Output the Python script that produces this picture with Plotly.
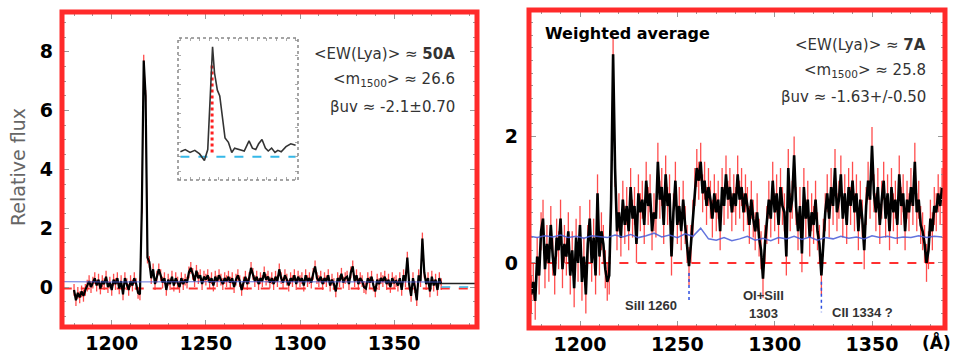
import plotly.graph_objects as go

W, H = 955, 356

# ---------------- data ----------------
left_start = 1180   # Angstrom, 1 A sampling
left_flux = [
    -0.1, -0.45, -0.2, -0.35, -0.15, -0.3, -0.1, 0.05, 0.2, 0.0,
    0.15, 0.3, 0.05, 0.25, -0.05, 0.2, 0.1, 0.35, 0.0, 0.15,
    -0.1, 0.25, 0.1, 0.3, -0.05, 0.2, -0.25, 0.3, 0.1, -0.1,
    0.2, 0.05, 0.3, 0.1, -0.2, -0.25, 2.7, 7.7, 6.5, 1.0,
    0.85, 0.3, 0.6, 0.1, 0.35, 0.6, 0.4, 0.15, 0.3, -0.1,
    0.25, 0.1, 0.35, 0.05, 0.3, 0.15, 0.0, 0.3, 0.1, 0.25,
    0.15, 0.5, 0.65, 0.45, 0.2, 0.55, 0.3, 0.4, 0.1, 0.35,
    0.25, 0.4, 0.15, 0.3, 0.05, 0.35, 0.2, 0.4, 0.25, 0.1,
    0.3, 0.2, 0.35, 0.15, 0.3, 0.0, 0.25, 0.4, 0.2, -0.1,
    0.15, 0.35, 0.1, 0.3, 0.65, 0.45, 0.2, 0.35, 0.1, 0.3,
    0.2, 0.5, 0.25, 0.35, 0.15, 0.3, 0.1, 0.35, 0.2, 0.6,
    0.3, 0.15, 0.4, 0.25, 0.05, 0.3, 0.2, 0.4, 0.1, 0.35,
    0.2, 0.3, 0.05, 0.4, 0.2, 0.3, 0.15, 0.45, 0.7, 0.3,
    0.2, 0.35, 0.1, 0.3, 0.2, 0.4, 0.05, 0.25, 0.1, -0.15,
    0.3, 0.2, 0.45, 0.15, 0.3, 0.35, 0.1, 0.5, 0.7, 0.2,
    0.4, 0.1, 0.3, 0.2, 0.0, -0.05, 0.3, 0.15, 0.35, 0.05,
    -0.15, 0.25, 0.1, 0.3, 0.2, 0.35, 0.1, 0.25, 0.0, 0.3,
    0.15, 0.2, 0.05, 0.3, -0.1, 0.4, 0.2, 1.0, 0.1, -0.3,
    0.3, 0.0, -0.45, 0.4, 0.2, 1.65, 0.5, 0.1, 0.3, -0.15,
    0.35, 0.05, 0.25, -0.1, 0.3, 0.1,
]
left_err = 0.2
left_noise_wave = [1174, 1200, 1250, 1300, 1350, 1375]
left_noise = [0.18, 0.17, 0.18, 0.17, 0.18, 0.17]
left_tail_wave = [1375, 1394]
left_tail_black = [0.12, 0.12]
left_tail_blue = [0.0, 0.0]
left_zero = -0.05

right_start = 1174  # Angstrom, 1 A sampling
right_flux = [
    -0.2, -0.5, -0.3, -0.6, 0.1, -0.2,
    0.5, 0.7, -0.1, 0.3, 0.0, 0.6, 0.1, -0.2, 0.4, 0.2,
    0.7, -0.1, 0.3, 0.1, 0.5, -0.2, 0.2, -0.4, 0.4, 0.0,
    0.6, -0.3, 0.1, -0.5, 0.3, 0.7, 0.0, 0.4, -0.2, 1.1,
    0.1, 0.5, 0.3, -0.1, -0.3, -0.2, 1.0, 3.3, 1.5, 0.5,
    0.8, 0.4, 1.0, 0.6, 0.9, 0.5, 1.2, 0.7, 0.9, 0.3,
    1.1, 0.8, 1.0, 0.6, 1.3, 0.9, 1.1, 0.5, 0.8, 0.7,
    1.6, 1.0, 1.2, 0.6, 1.4, 0.9, 1.1, 0.1, 0.8, 1.3,
    0.6, 0.9, 0.5, 1.0, 0.6, 0.3, -0.05, 0.3, 0.7, 1.2,
    1.5, 1.3, 1.6, 1.1, 1.3, 0.9, 1.2, 1.0, 0.7, 1.1,
    0.8, 1.0, 0.5, 1.2, 0.9, 1.4, 1.0, 1.2, 0.8, 1.1,
    0.9, 1.4, 1.0, 1.2, 0.8, 1.1, 0.9, 0.6, 1.0, 0.7,
    0.5, 0.8, 0.4, 0.2, -0.25, 0.3, 0.6, 1.0, 0.7, 1.3,
    0.8, 1.1, 0.6, 1.2, 0.9, 0.8, 0.1, 1.5, 0.8, 1.0,
    1.7, 0.9, 0.5, 0.9, 0.15, 1.2, 0.7, 1.0, 0.4, 0.8,
    0.6, 1.0, 0.5, 0.3, -0.2, 0.4, 0.8, 1.1, 0.7, 1.2,
    0.9, 1.5, 0.8, 1.0, 1.4, 0.7, 1.1, 0.6, 1.2, 0.9,
    1.3, 0.8, 1.1, 0.5, 1.0, 0.7, 0.2, 0.9, 1.3, 1.0,
    1.85, 1.1, 0.8, 1.2, 0.6, 1.0, 1.3, 0.7, 1.1, 0.5,
    1.2, 0.8, 1.0, 0.6, 1.4, 0.9, 1.1, 0.5, 1.0, 0.8,
    1.2, 0.9, 1.6, 0.8, 1.0, 0.6, 0.5, 0.3, 0.0, 0.2,
    0.7, 0.5, 0.9, 0.8, 1.1, 0.9, 1.2,
]
right_err = 0.3
right_noise_start = 1174  # 4 A sampling
right_noise = [
    0.42, 0.40, 0.43, 0.41, 0.44, 0.40, 0.42, 0.39, 0.43, 0.41,
    0.40, 0.44, 0.41, 0.45, 0.40, 0.43, 0.47, 0.41, 0.44, 0.40,
    0.46, 0.42, 0.55, 0.38, 0.36, 0.40, 0.35, 0.38, 0.42, 0.36,
    0.39, 0.35, 0.40, 0.38, 0.42, 0.37, 0.41, 0.36, 0.40, 0.38,
    0.42, 0.39, 0.41, 0.38, 0.43, 0.40, 0.42, 0.39, 0.41, 0.40,
    0.43, 0.40, 0.42, 0.41,
]
right_zero = 0.0
marker_lines = [  # (wavelength, y_top, y_bottom)
    (1256, -0.16, -0.62),
    (1324, -0.30, -0.78),
]

inset_wave = [1206.0, 1207.0, 1208.0, 1209.0, 1210.0, 1211.0, 1211.7, 1212.2,
              1212.7, 1213.1, 1213.7, 1214.2, 1214.8, 1215.3, 1216.0, 1216.7,
              1217.3, 1218.3, 1219.3, 1220.3, 1221.0, 1221.7, 1222.3, 1223.0,
              1223.7, 1224.3, 1225.0, 1225.7, 1226.3, 1227.0, 1228.0, 1229.0,
              1230.0]
inset_flux = [0.35, 0.5, 0.3, 0.45, 0.2, -0.25, 0.5, 4.0,
              7.6, 5.8, 4.6, 4.2, 2.5, 1.3, 1.0, 0.3,
              0.6, 0.5, 0.4, 1.1, 0.6, 0.5, 0.9, 1.2,
              0.6, 0.4, 0.6, 0.3, 0.45, 0.35, 0.7, 0.9,
              0.8]
inset_peak_wave = 1212.6
inset_peak_span = [0.3, 6.5]

x_ticks = [1200, 1250, 1300, 1350]

left_wave = [left_start + i for i in range(len(left_flux))]
right_wave = [right_start + i for i in range(len(right_flux))]
right_noise_wave = [right_noise_start + 4 * i for i in range(len(right_noise))]

RED = "rgba(255,45,45,0.85)"
BLACK = "#000000"
BLUE = "rgba(70,90,215,0.85)"
LBLUE = "#35b8e8"

fig = go.Figure()

# ---- left panel ----
fig.add_trace(go.Scatter(x=[left_noise_wave[0], 1394], y=[left_zero, left_zero],
                         mode="lines", line=dict(color="#ff3030", width=2, dash="dash"),
                         xaxis="x", yaxis="y", hoverinfo="skip"))
fig.add_trace(go.Scatter(x=left_wave, y=left_flux, mode="lines",
                         line=dict(color=RED, width=1),
                         error_y=dict(type="constant", value=left_err, color=RED,
                                      thickness=1.3, width=0),
                         xaxis="x", yaxis="y", hoverinfo="skip"))
fig.add_trace(go.Scatter(x=left_wave, y=left_flux, mode="lines",
                         line=dict(color=BLACK, width=2.2),
                         xaxis="x", yaxis="y"))
fig.add_trace(go.Scatter(x=left_noise_wave, y=left_noise, mode="lines",
                         line=dict(color=BLUE, width=1),
                         xaxis="x", yaxis="y", hoverinfo="skip"))
fig.add_trace(go.Scatter(x=left_tail_wave, y=left_tail_black, mode="lines",
                         line=dict(color="#222", width=1.5),
                         xaxis="x", yaxis="y", hoverinfo="skip"))
fig.add_trace(go.Scatter(x=left_tail_wave, y=left_tail_blue, mode="lines",
                         line=dict(color=LBLUE, width=1.5, dash="dash"),
                         xaxis="x", yaxis="y", hoverinfo="skip"))

# ---- right panel ----
fig.add_trace(go.Scatter(x=[right_start, 1388], y=[right_zero, right_zero],
                         mode="lines", line=dict(color="#ff3030", width=2, dash="dash"),
                         xaxis="x2", yaxis="y2", hoverinfo="skip"))
fig.add_trace(go.Scatter(x=right_wave, y=right_flux, mode="lines",
                         line=dict(color=RED, width=1),
                         error_y=dict(type="constant", value=right_err, color=RED,
                                      thickness=1.3, width=0),
                         xaxis="x2", yaxis="y2", hoverinfo="skip"))
fig.add_trace(go.Scatter(x=right_wave, y=right_flux, mode="lines",
                         line=dict(color=BLACK, width=2.6),
                         xaxis="x2", yaxis="y2"))
fig.add_trace(go.Scatter(x=right_noise_wave, y=right_noise, mode="lines",
                         line=dict(color=BLUE, width=1.5),
                         xaxis="x2", yaxis="y2", hoverinfo="skip"))
for wl, y0, y1 in marker_lines:
    fig.add_trace(go.Scatter(x=[wl, wl], y=[y0, y1], mode="lines",
                             line=dict(color="#3050e0", width=1.5, dash="dot"),
                             xaxis="x2", yaxis="y2", hoverinfo="skip"))

# ---- inset ----
fig.add_trace(go.Scatter(x=[inset_wave[0], inset_wave[-1]], y=[0, 0], mode="lines",
                         line=dict(color=LBLUE, width=2, dash="dash"),
                         xaxis="x3", yaxis="y3", hoverinfo="skip"))
fig.add_trace(go.Scatter(x=[inset_peak_wave, inset_peak_wave], y=inset_peak_span,
                         mode="lines", line=dict(color="#ff2020", width=3, dash="dot"),
                         xaxis="x3", yaxis="y3", hoverinfo="skip"))
fig.add_trace(go.Scatter(x=inset_wave, y=inset_flux, mode="lines",
                         line=dict(color="#333", width=1.6),
                         xaxis="x3", yaxis="y3"))


def fx(p):
    return p / W


def fy(p):
    return 1 - p / H


TICKFONT = dict(family="DejaVu Sans", size=19, color="black", weight="bold")
TICKC = "#999999"

common_x = dict(tickmode="array", tickvals=x_ticks, ticks="inside", ticklen=7,
                tickcolor=TICKC, mirror="ticks", showline=False, showgrid=False,
                zeroline=False, tickfont=TICKFONT, ticklabelstandoff=3,
                minor=dict(tickmode="linear", tick0=1200, dtick=10, ticks="inside",
                           ticklen=4, tickcolor=TICKC, showgrid=False))

fig.update_layout(
    width=W, height=H, margin=dict(l=0, r=0, t=0, b=0),
    paper_bgcolor="white", plot_bgcolor="white", showlegend=False,
    xaxis=dict(domain=[fx(62), fx(477)], range=[1173.6, 1394], anchor="y", **common_x),
    yaxis=dict(domain=[fy(327), fy(12)], range=[-1.36, 9.35], anchor="x",
               tickmode="array", tickvals=[0, 2, 4, 6, 8], ticks="inside", ticklen=7,
               tickcolor=TICKC, mirror="ticks", showline=False, showgrid=False,
               zeroline=False, tickfont=TICKFONT, ticklabelstandoff=8,
               minor=dict(tickmode="linear", tick0=0, dtick=0.5, ticks="inside",
                          ticklen=4, tickcolor=TICKC, showgrid=False)),
    xaxis2=dict(domain=[fx(529), fx(945)], range=[1173.8, 1387.5], anchor="y2", **common_x),
    yaxis2=dict(domain=[fy(328), fy(10)], range=[-1.03, 4.0], anchor="x2",
                tickmode="array", tickvals=[0, 2], ticks="inside", ticklen=7,
                tickcolor=TICKC, mirror="ticks", showline=False, showgrid=False,
                zeroline=False, tickfont=TICKFONT, ticklabelstandoff=10,
                minor=dict(tickmode="linear", tick0=0, dtick=0.2, ticks="inside",
                           ticklen=4, tickcolor=TICKC, showgrid=False)),
    xaxis3=dict(domain=[fx(178), fx(298)], range=[1205.5, 1230.5], anchor="y3",
                showticklabels=False, ticks="inside", ticklen=3, tickcolor="#aaa",
                dtick=2, mirror="ticks", showline=False, showgrid=False, zeroline=False),
    yaxis3=dict(domain=[fy(180), fy(38)], range=[-1.6, 8.2], anchor="x3",
                showticklabels=False, ticks="inside", ticklen=3, tickcolor="#aaa",
                dtick=1, mirror="ticks", showline=False, showgrid=False, zeroline=False),
)

shapes = []
for xr, yr in (("x", "y"), ("x2", "y2")):
    shapes.append(dict(type="rect", xref=f"{xr} domain", yref=f"{yr} domain",
                       x0=0, x1=1, y0=0, y1=1, layer="above",
                       line=dict(color="#ff2a2a", width=5)))
shapes.append(dict(type="rect", xref="x3 domain", yref="y3 domain",
                   x0=0, x1=1, y0=0, y1=1, layer="above",
                   line=dict(color="#888", width=1.5, dash="dot")))
fig.update_layout(shapes=shapes)

TXT = dict(family="DejaVu Sans", size=15, color="#333")
ann = []


def add_text(x, y, text, font, xanchor="center", textangle=0):
    ann.append(dict(x=fx(x), y=fy(y), xref="paper", yref="paper", text=text,
                    showarrow=False, font=font, xanchor=xanchor, yanchor="middle",
                    textangle=textangle))


add_text(18, 167, "Relative flux", dict(family="DejaVu Sans", size=19, color="#666"),
         textangle=-90)
add_text(457, 54, "&lt;EW(Lya)&gt; ≈ <b>50A</b>", TXT, xanchor="right")
add_text(457, 79, "&lt;m<sub>1500</sub>&gt; ≈ 26.6", TXT, xanchor="right")
add_text(457, 107, "βuv ≈ -2.1±0.70", TXT, xanchor="right")

add_text(543, 33, "<b>Weighted average</b>",
         dict(family="DejaVu Sans", size=16, color="black"), xanchor="left")
add_text(928, 45, "&lt;EW(Lya)&gt; ≈ <b>7A</b>", TXT, xanchor="right")
add_text(928, 70, "&lt;m<sub>1500</sub>&gt; ≈ 25.8", TXT, xanchor="right")
add_text(928, 97, "βuv ≈ -1.63+/-0.50", TXT, xanchor="right")

LBL = dict(family="Liberation Sans", size=13, color="#333", weight="bold")
add_text(651, 305, "SiII 1260", LBL)
add_text(763, 295, "OI+SiII", LBL)
add_text(763, 313, "1303", LBL)
add_text(862, 312, "CII 1334 ?", LBL)
add_text(953, 342, "(Å)", dict(family="DejaVu Sans", size=17, color="black", weight="bold"),
         xanchor="right")

fig.update_layout(annotations=ann)

fig.write_html("out.html", config={"displayModeBar": False},
               post_script="document.body.style.margin='0';document.body.style.padding='0';")
